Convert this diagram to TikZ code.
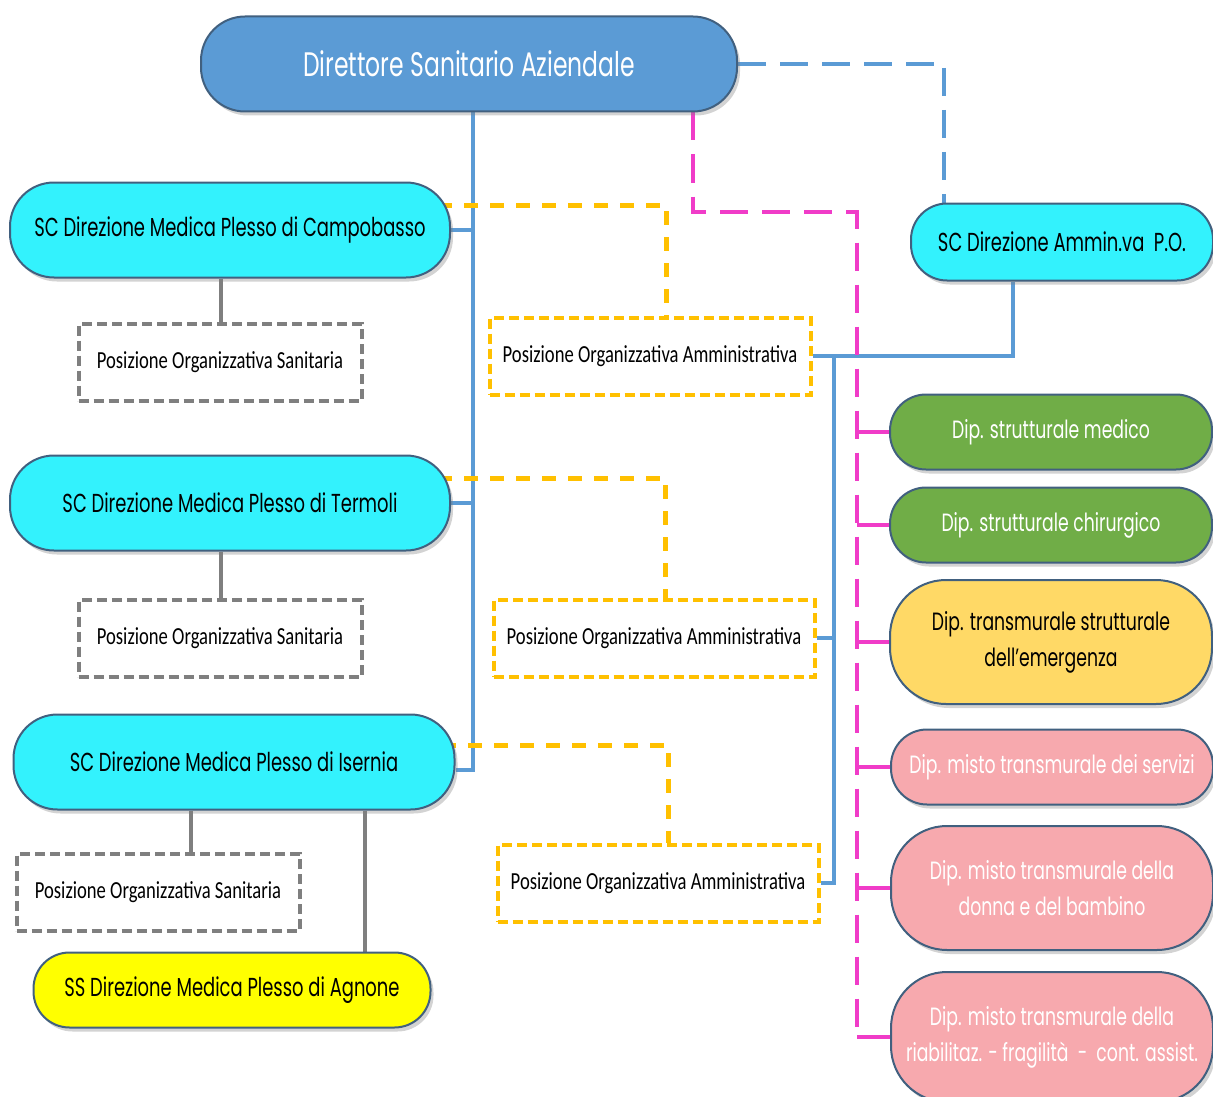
\documentclass[tikz,border=0pt]{standalone}
\usepackage{fontspec}
\setmainfont{Carlito}
\newfontfamily\gothic[FakeStretch=0.69]{Poppins}
\newfontfamily\calib[FakeStretch=0.76]{Carlito}
\usepackage{tikz}
\usetikzlibrary{shadows}
\usetikzlibrary{calc}

\definecolor{topblue}{HTML}{5B9BD5}
\definecolor{edgeblue}{HTML}{41607F}
\definecolor{unitcyan}{HTML}{33F2FD}
\definecolor{unityellow}{HTML}{FFFF00}
\definecolor{depgreen}{HTML}{70AD47}
\definecolor{depgold}{HTML}{FFD966}
\definecolor{deppink}{HTML}{F7A9AE}
\definecolor{poagold}{HTML}{FFC000}
\definecolor{posgray}{HTML}{7F7F7F}
\definecolor{linkpink}{HTML}{F03CC8}

\pgfdeclarelayer{bg}
\pgfsetlayers{bg,main}

\tikzset{
    unit/.style={draw=edgeblue, line width=2pt, rounded corners=44pt, minimum height=95pt,
        inner sep=0pt, align=center, text=black,
        drop shadow={opacity=0.35, shadow xshift=3pt, shadow yshift=-4pt},
        font=\gothic\fontsize{26}{31}\selectfont},
    dep/.style={unit, rounded corners=36pt, minimum width=322pt, minimum height=75pt,
        font=\gothic\fontsize{25}{36}\selectfont},
    bigdep/.style={dep, rounded corners=56pt, minimum height=124pt},
    posbox/.style={draw=posgray, line width=4pt, dash pattern=on 10pt off 5pt,
        minimum width=283pt, minimum height=77pt, inner sep=0pt,
        font=\calib\fontsize{24.5}{28}\selectfont},
    poabox/.style={posbox, draw=poagold, minimum width=321pt},
    bline/.style={topblue, line width=4pt},
    bdash/.style={bline, dash pattern=on 28pt off 14pt},
    gline/.style={posgray, line width=4pt},
    ydash/.style={poagold, line width=5pt, dash pattern=on 14pt off 12pt},
    mline/.style={linkpink, line width=4pt},
    mdash/.style={mline, dash pattern=on 28pt off 14pt}
}

\begin{document}
\begin{tikzpicture}[x=1pt, y=-1pt]
    \useasboundingbox (0,0) rectangle (1213,1097);

    \node[unit, fill=topblue, text=white, minimum width=536pt, font=\gothic\fontsize{34}{40}\selectfont] (dsa) at (469, 64) {Direttore Sanitario Aziendale};

    \node[unit, fill=unitcyan, minimum width=440pt] (campo)   at (230, 230) {SC Direzione Medica Plesso di Campobasso};
    \node[unit, fill=unitcyan, minimum width=440pt] (termoli) at (230, 503) {SC Direzione Medica Plesso di Termoli};
    \node[unit, fill=unitcyan, minimum width=441pt] (isernia) at (234, 762) {SC Direzione Medica Plesso di Isernia};
    \node[unit, fill=unityellow, minimum width=397pt, minimum height=75pt, rounded corners=36pt] (agnone) at (232, 990) {SS Direzione Medica Plesso di Agnone};
    \node[unit, fill=unitcyan, minimum width=302pt, minimum height=77pt, rounded corners=36pt] (amm) at (1062, 242) {SC Direzione Ammin.va\ \ P.O.};

    \node[posbox] (pos1) at (220, 362) {Posizione Organizzativa Sanitaria};
    \node[posbox] (pos2) at (220, 638) {Posizione Organizzativa Sanitaria};
    \node[posbox] (pos3) at (158, 892) {Posizione Organizzativa Sanitaria};

    \node[poabox] (poa1) at (650, 356) {Posizione Organizzativa Amministrativa};
    \node[poabox] (poa2) at (654, 638) {Posizione Organizzativa Amministrativa};
    \node[poabox] (poa3) at (658, 883) {Posizione Organizzativa Amministrativa};

    \node[dep, fill=depgreen, text=white] (medico) at (1051, 432) {Dip. strutturale medico};
    \node[dep, fill=depgreen, text=white] (chir)   at (1051, 525) {Dip. strutturale chirurgico};
    \node[bigdep, fill=depgold]           (emerg)  at (1051, 642) {Dip. transmurale strutturale\\dell’emergenza};
    \node[dep, fill=deppink, text=white]  (servizi) at (1052, 767) {Dip. misto transmurale dei servizi};
    \node[bigdep, fill=deppink, text=white] (donna) at (1052, 888) {Dip. misto transmurale della\\donna e del bambino};
    \node[bigdep, fill=deppink, text=white, minimum height=130pt] (riab) at (1052, 1037) {Dip. misto transmurale della\\riabilitaz. - fragilità\ \ -\ \ cont. assist.};

    \coordinate (ltrunk) at (473, 0);
    \coordinate (rtrunk) at (834, 0);
    \coordinate (mtrunk) at (857, 0);

    \begin{pgfonlayer}{bg}
        \draw[bline] (dsa.south -| ltrunk) |- ([yshift=-8pt]isernia.east);
        \draw[bline] (campo.east) -- (campo.east -| ltrunk);
        \draw[bline] (termoli.east) -- (termoli.east -| ltrunk);

        \draw[bdash] (dsa.east) -| ([xshift=-118pt]amm.north);
        \draw[bline] ([xshift=-49pt]amm.south) |- (poa1.east);
        \draw[bline] (poa1.east -| rtrunk) |- (poa3.east);
        \draw[bline] (poa2.east) -- (poa2.east -| rtrunk);

        \draw[ydash] ([yshift=25pt]campo.center) -| ([xshift=16pt]poa1.north);
        \draw[ydash] ([yshift=25pt]termoli.center) -| ([xshift=11pt]poa2.north);
        \draw[ydash] ([yshift=17pt]isernia.center) -| ([xshift=10pt]poa3.north);

        \draw[gline] ([xshift=-9pt]campo.south) -- ([xshift=-9pt]campo.south |- pos1.north);
        \draw[gline] ([xshift=-9pt]termoli.south) -- ([xshift=-9pt]termoli.south |- pos2.north);
        \draw[gline] ([xshift=-43pt]isernia.south) -- ([xshift=-43pt]isernia.south |- pos3.north);
        \draw[gline] ([xshift=131pt]isernia.south) -- ([xshift=131pt]isernia.south |- agnone.north);

        \draw[mdash] ([xshift=224pt]dsa.south) -- ++(0,99) -| (mtrunk |- riab.west);
        \foreach \d in {medico,chir,emerg,servizi,donna,riab}
            \draw[mline] (\d.west) -- (\d.west -| mtrunk);
    \end{pgfonlayer}
\end{tikzpicture}
\end{document}
